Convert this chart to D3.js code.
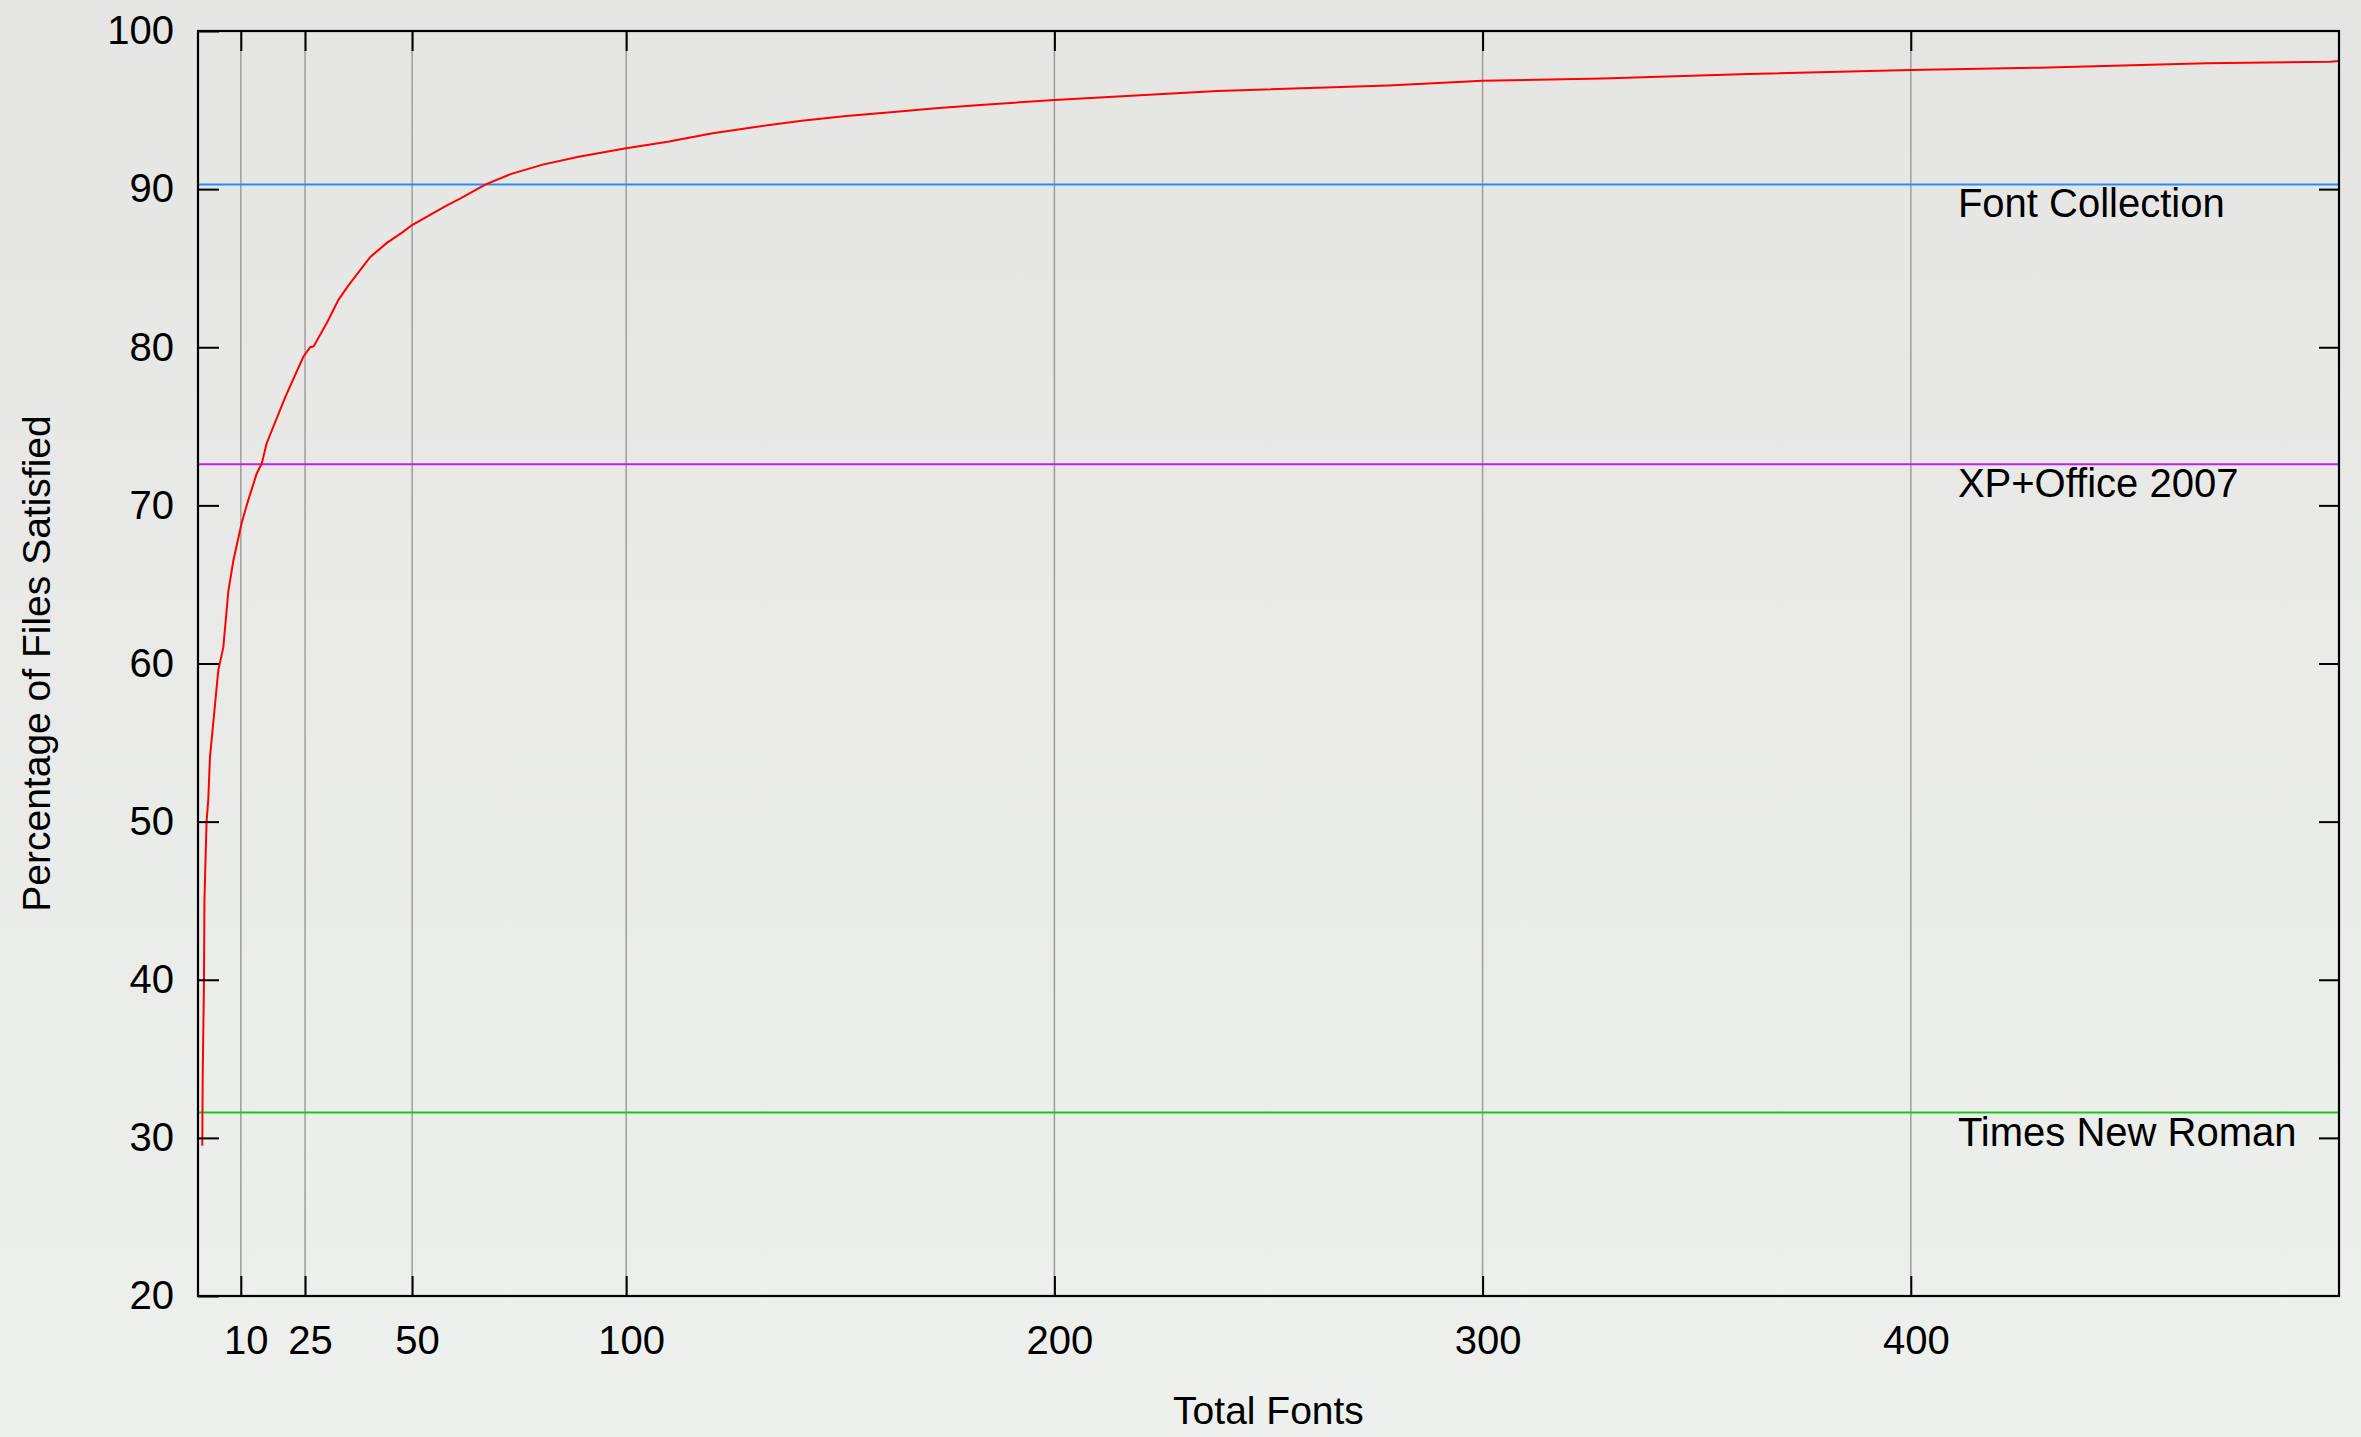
<!DOCTYPE html>
<html>
<head>
<meta charset="utf-8">
<script src="https://cdn.jsdelivr.net/npm/d3@7"></script>
<style>
  body { margin: 0; background: #eaebe8; }
  svg { display: block; }
  text { font-family: "Liberation Sans", Arial, Helvetica, sans-serif; fill: #000; }
</style>
</head>
<body>
<div id="chart"></div>
<script>
// cumulative curve
const fontCounts = [1, 1.1, 1.4, 1.5, 2.0, 2.4, 2.8, 4.75, 5.9, 7.1, 8.25, 10.2, 11.7, 13.7, 14.9, 16,
  20.3, 24.6, 26.2, 27, 30.2, 32.8, 35.1, 40.2, 44.1, 47.9, 50, 57.6, 61.2, 67.2, 73, 80.5, 88.9,
  100, 109.7, 120.2, 130.6, 141, 151.4, 161.8, 172.3, 182.7, 200, 238, 278, 300, 328, 362, 400,
  430, 469, 498, 500];
const pctSatisfied = [29.5, 34, 40, 45, 50, 51.4, 54.1, 59.6, 61.0, 64.6, 66.5, 68.9, 70.3, 72.0, 72.65, 73.9,
  76.8, 79.4, 80.0, 80.05, 81.6, 83.0, 83.9, 85.7, 86.6, 87.3, 87.73, 88.9, 89.4, 90.3, 90.95, 91.55, 92.05,
  92.58, 93.0, 93.53, 93.95, 94.33, 94.62, 94.86, 95.11, 95.32, 95.64, 96.2, 96.56, 96.85, 97.0, 97.28, 97.53,
  97.68, 97.96, 98.06, 98.1];

const refNames = ['Font Collection', 'XP+Office 2007', 'Times New Roman'];
const refValues = [90.3, 72.6, 31.6];
const refColors = ['#2b8cf6', '#c21ff5', '#1ec41e'];

const xTicks = [10, 25, 50, 100, 200, 300, 400];
const yTicks = [20, 30, 40, 50, 60, 70, 80, 90, 100];

const width = 2361, height = 1437;
const margin = { top: 31, right: 22, bottom: 141, left: 198 };
const w = width - margin.left - margin.right;
const h = height - margin.top - margin.bottom;

const svg = d3.select('#chart').append('svg')
  .attr('width', width)
  .attr('height', height);

const grad = svg.append('defs').append('linearGradient')
  .attr('id', 'bg').attr('x1', 0).attr('y1', 0).attr('x2', 0).attr('y2', 1);
grad.append('stop').attr('offset', '0%').attr('stop-color', '#e5e6e3');
grad.append('stop').attr('offset', '100%').attr('stop-color', '#eef0ed');
svg.append('rect').attr('width', width).attr('height', height).attr('fill', 'url(#bg)');

const g = svg.append('g')
  .attr('transform', `translate(${margin.left},${margin.top})`);

const x = d3.scaleLinear().domain([0, 500]).range([0, w]);
const y = d3.scaleLinear().domain([20, 100]).range([h, 0]);

// vertical grid
g.selectAll('.grid')
  .data(xTicks)
  .enter().append('line')
  .attr('class', 'grid')
  .attr('x1', d => x(d)).attr('x2', d => x(d))
  .attr('y1', 0).attr('y2', h)
  .attr('stroke', '#9d9d9d')
  .attr('stroke-width', 1.5);

// reference lines
g.selectAll('.ref')
  .data(refValues)
  .enter().append('line')
  .attr('class', 'ref')
  .attr('x1', 0).attr('x2', w)
  .attr('y1', d => y(d)).attr('y2', d => y(d))
  .attr('stroke', (d, i) => refColors[i])
  .attr('stroke-width', 2);

g.selectAll('.refLabel')
  .data(refValues)
  .enter().append('text')
  .attr('class', 'refLabel')
  .attr('x', x(411))
  .attr('y', d => y(d) + 33)
  .style('font-size', '40px')
  .text((d, i) => refNames[i]);

// curve
const line = d3.line()
  .x((d, i) => x(fontCounts[i]))
  .y(d => y(d));

g.append('path')
  .datum(pctSatisfied)
  .attr('fill', 'none')
  .attr('stroke', '#ff0000')
  .attr('stroke-width', 2)
  .attr('d', line);

// axes
const styleAxis = sel => {
  sel.select('.domain').remove();
  sel.selectAll('.tick line').attr('stroke', '#000').attr('stroke-width', 2);
  sel.selectAll('.tick text').style('font-size', '40px').attr('fill', '#000');
};

g.append('g')
  .call(d3.axisLeft(y).tickValues(yTicks).tickSizeInner(-21).tickSizeOuter(0).tickPadding(24))
  .call(styleAxis);

g.append('g')
  .attr('transform', `translate(${w},0)`)
  .call(d3.axisRight(y).tickValues(yTicks.slice(1, -1)).tickSizeInner(-20).tickSizeOuter(0).tickFormat(''))
  .call(styleAxis);

g.append('g')
  .attr('transform', `translate(0,${h})`)
  .call(d3.axisBottom(x).tickValues(xTicks).tickSizeInner(-20).tickSizeOuter(0).tickPadding(30))
  .call(styleAxis)
  .selectAll('.tick text').attr('dx', 5);

g.append('g')
  .call(d3.axisTop(x).tickValues(xTicks).tickSizeInner(-20).tickSizeOuter(0).tickFormat(''))
  .call(styleAxis);

// frame
g.append('rect')
  .attr('width', w).attr('height', h)
  .attr('fill', 'none')
  .attr('stroke', '#000')
  .attr('stroke-width', 2.2);

// titles
svg.append('text')
  .attr('x', margin.left + w / 2)
  .attr('y', 1424)
  .attr('text-anchor', 'middle')
  .style('font-size', '39px')
  .text('Total Fonts');

svg.append('text')
  .attr('transform', `translate(50,${margin.top + h / 2}) rotate(-90)`)
  .attr('text-anchor', 'middle')
  .style('font-size', '39px')
  .text('Percentage of Files Satisfied');
</script>
</body>
</html>
